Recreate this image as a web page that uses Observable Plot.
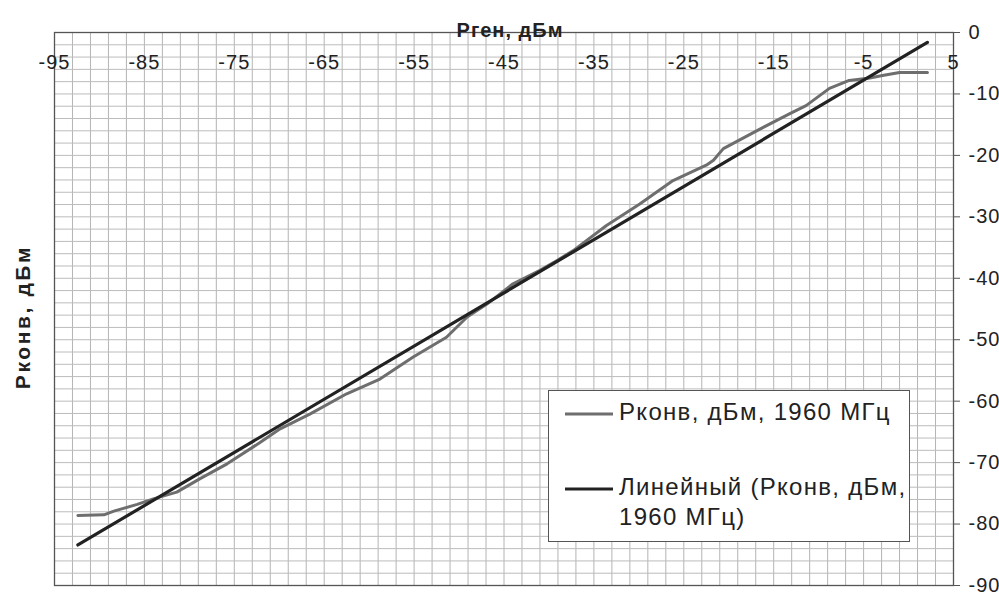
<!DOCTYPE html>
<html>
<head>
<meta charset="utf-8">
<script src="https://cdn.jsdelivr.net/npm/d3@7"></script>
<script src="https://cdn.jsdelivr.net/npm/@observablehq/plot@0.6"></script>
<style>
  html, body { margin: 0; padding: 0; background: #fff; }
  #wrap { position: relative; width: 999px; height: 597px; overflow: hidden; font-family: "Liberation Sans", Arial, sans-serif; }
  #legend { position: absolute; left: 548px; top: 390px; width: 362px; height: 152px; background: #fff; border: 1px solid #555; box-sizing: border-box; font-size: 24px; letter-spacing: 1.3px; color: #222; }
  .entry { position: absolute; left: 16px; display: flex; align-items: flex-start; }
  .entry svg { flex: none; margin-top: 13px; }
  .entry span { margin-left: 6px; line-height: 30px; }
</style>
</head>
<body>
<div id="wrap">
  <div id="chart"></div>
  <div id="legend"></div>
</div>
<script>
const pGen = [-92.4, -89.5, -88.4, -85.8, -84, -81.4, -78.8, -75.8, -72.1, -69.9, -66.6, -62.5, -58.8, -55.1, -51.4, -49.1, -46.9, -44, -41, -39.1, -37.3, -33.6, -29.9, -26.2, -22.5, -21.7, -20.6, -16.9, -13.2, -11.4, -8.8, -6.6, -4.3, -2.9, -1, 2.1];
const pConv = [-78.6, -78.5, -77.9, -76.8, -75.9, -74.8, -72.6, -70.2, -66.7, -64.5, -62.1, -58.8, -56.4, -52.8, -49.6, -46.3, -44.2, -40.9, -38.7, -37.1, -35.5, -31.4, -27.9, -24.1, -21.6, -20.8, -18.9, -16.0, -13.2, -11.9, -9.1, -7.8, -7.4, -7.0, -6.5, -6.5];
// Linear trend line end points
const trendX = [-92.4, 2.1];
const trendY = [-83.4, -1.6];
// Axis ticks
const xTicks = [-95, -85, -75, -65, -55, -45, -35, -25, -15, -5, 5];
const yTicks = [0, -10, -20, -30, -40, -50, -60, -70, -80, -90];
const xTitle = "Рген, дБм";
const yTitle = "Рконв, дБм";
const seriesNames = ["Рконв, дБм, 1960 МГц", "Линейный (Рконв, дБм,<br>1960 МГц)"];
const seriesColors = ["#6e6e6e", "#222222"];

const measured = pGen.map((x, i) => ({x, y: pConv[i]}));
const trend = trendX.map((x, i) => ({x, y: trendY[i]}));

const font = "Liberation Sans, Arial, sans-serif";
const fmt = d => String(d);

const chart = Plot.plot({
  width: 999,
  height: 597,
  marginLeft: 54,
  marginRight: 46,
  marginTop: 32,
  marginBottom: 12,
  style: {fontFamily: font, fontSize: "20px", color: "#222", background: "transparent", letterSpacing: "1px"},
  x: {domain: [-95, 5]},
  y: {domain: [-90, 0]},
  marks: [
    Plot.gridX(d3.range(-95, 6, 2), {stroke: "#b4b4b4", strokeOpacity: 1, strokeWidth: 1}),
    Plot.gridY(d3.range(-90, 1, 2), {stroke: "#bcbcbc", strokeOpacity: 1, strokeWidth: 1}),
    Plot.frame({stroke: "#555", strokeWidth: 1.3}),
    Plot.axisX({anchor: "top", ticks: xTicks, tickFormat: fmt, tickSize: 0, tickPadding: 3, dy: 39, label: null, fontSize: 20}),
    Plot.axisY({anchor: "right", ticks: yTicks, tickFormat: fmt, tickSize: 6, tickPadding: 9, label: null, textAnchor: "start", fontSize: 20, stroke: "#555"}),
    Plot.text([xTitle], {frameAnchor: "top", dy: -10, dx: 6, fontWeight: "bold", fontSize: 20, fill: "#222"}),
    Plot.text([yTitle], {frameAnchor: "left", textAnchor: "middle", rotate: -90, dx: -31, dy: 8, fontWeight: "bold", fontSize: 21, fill: "#222"}),
    Plot.line(measured, {x: "x", y: "y", stroke: seriesColors[0], strokeWidth: 3, strokeLinejoin: "round"}),
    Plot.line(trend, {x: "x", y: "y", stroke: seriesColors[1], strokeWidth: 3.2, strokeLinecap: "round"})
  ]
});
d3.select(chart).selectAll("text").filter(function() { return this.textContent === yTitle; }).style("letter-spacing", "2.6px");
document.getElementById("chart").appendChild(chart);

const legend = document.getElementById("legend");
const tops = [6, 81];
seriesNames.forEach((name, i) => {
  const e = document.createElement("div");
  e.className = "entry";
  e.style.top = tops[i] + "px";
  e.innerHTML = `<svg width="48" height="8"><line x1="0" y1="4" x2="48" y2="4" stroke="${seriesColors[i]}" stroke-width="3"/></svg><span>${name}</span>`;
  legend.appendChild(e);
});
</script>
</body>
</html>
